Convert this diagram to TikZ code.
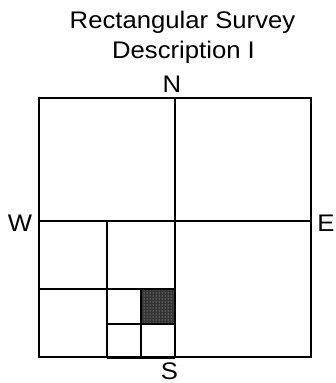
\documentclass[tikz,border=0pt]{standalone}
\usepackage{fontspec}
\setmainfont{Liberation Sans}[FakeStretch=1.07]
\usetikzlibrary{patterns}
\begin{document}
\begin{tikzpicture}[x=1pt,y=-1pt,
  lbl/.style={inner sep=0pt,anchor=base,font=\fontsize{24}{26}\selectfont},
  grid/.style={line width=2pt},
  shade/.style={fill=black!80,postaction={pattern=dots,pattern color=white!85!black}}]
\useasboundingbox (0,0) rectangle (336,383);
\node[lbl] (t1) at (182.5,28.5) {Rectangular Survey};
\node[lbl] (t2) at (183.5,58.5) {Description I};
\node[lbl] (n) at (172,92) {N};
\node[lbl] (w) at (20,231) {W};
\node[lbl] (e) at (326,231) {E};
\node[lbl] (s) at (169.5,379) {S};
\fill[shade] (141,289) rectangle (175,324);
\draw[grid] (39,98) rectangle (311,357);
\draw[grid] (175,98) -- (175,357);
\draw[grid] (39,221) -- (311,221);
\draw[grid] (107,221) -- (107,358);
\draw[grid] (39,289) -- (175,289);
\draw[grid] (107,358) -- (175,358);
\draw[grid] (141,289) -- (141,358);
\draw[grid] (107,324) -- (175,324);
\end{tikzpicture}
\end{document}
